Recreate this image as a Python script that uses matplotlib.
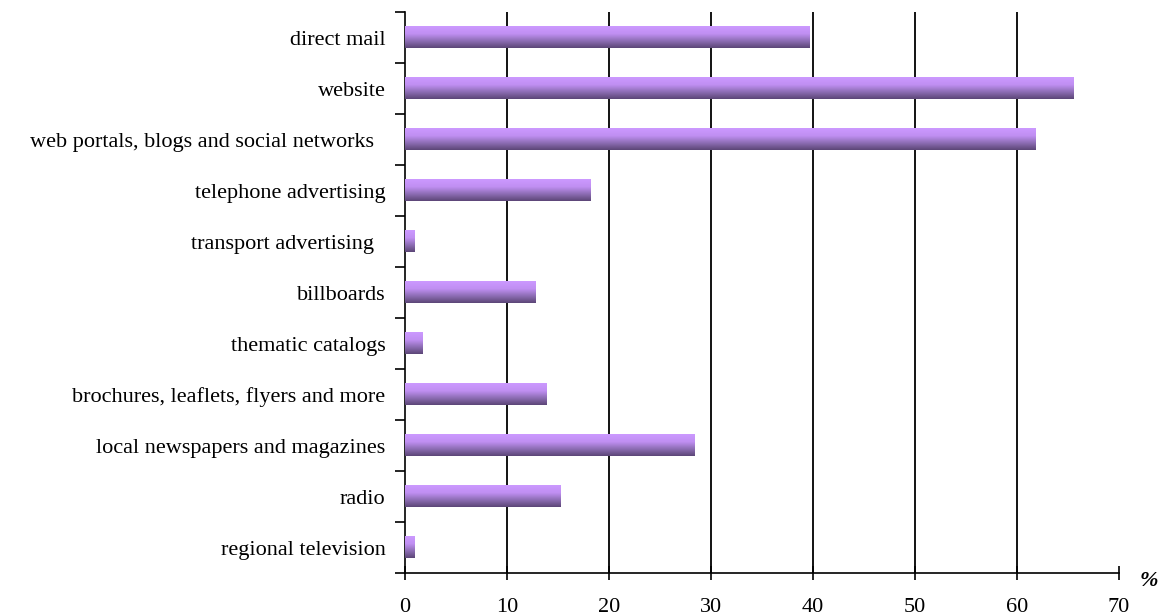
import numpy as np
import matplotlib.pyplot as plt
from matplotlib.colors import LinearSegmentedColormap

# top to bottom as in the chart
channels = ['direct mail', 'website', 'web portals, blogs and social networks  ',
            'telephone advertising', 'transport advertising  ', 'billboards',
            'thematic catalogs', 'brochures, leaflets, flyers and more',
            'local newspapers and magazines', 'radio', 'regional television']
shares = [39.7, 65.5, 61.8, 18.2, 0.9, 12.8, 1.7, 13.9, 28.4, 15.2, 0.9]
x_ticks = [0, 10, 20, 30, 40, 50, 60, 70]

plt.rcParams['font.family'] = ['Liberation Serif', 'DejaVu Serif']

fig = plt.figure(figsize=(11.71, 6.16), dpi=100)
ax = fig.add_axes([0.3459, 0.0698, 0.6097, 0.9107])

n = len(channels)
ypos = np.arange(n)[::-1]
bar_h = 0.42

# vertical gradient, light on top, dark at the bottom
cmap = LinearSegmentedColormap.from_list(
    'bar', [(0, '#cc99ff'), (0.35, '#c08ff2'), (0.7, '#8a6bb0'), (1, '#5c4677')])
grad = np.linspace(0, 1, 64).reshape(-1, 1)

bars = ax.barh(ypos, shares, height=bar_h, color='none', zorder=3)
for b in bars:
    x0, y0 = b.get_x(), b.get_y()
    w, h = b.get_width(), b.get_height()
    ax.imshow(grad, cmap=cmap, aspect='auto', interpolation='bilinear',
              extent=(x0, x0 + w, y0, y0 + h), origin='upper', zorder=3)

ax.set_xlim(0, 70)
ax.set_ylim(-0.5, n - 0.5)

ax.set_xticks(x_ticks)
ax.set_xticklabels([str(t) for t in x_ticks], fontsize=16)
ax.tick_params(axis='x', direction='inout', length=10, width=1.2, pad=13)

ax.set_yticks(ypos)
ax.set_yticklabels(channels, fontsize=16)
ax.tick_params(axis='y', which='major', length=0, pad=14)
ax.set_yticks(np.arange(n + 1) - 0.5, minor=True)
ax.tick_params(axis='y', which='minor', direction='out', length=7, width=1.2)

for t in x_ticks[1:-1]:
    ax.axvline(t, color='black', lw=1.3, zorder=1)

for s in ['top', 'right']:
    ax.spines[s].set_visible(False)
for s in ['left', 'bottom']:
    ax.spines[s].set_linewidth(1.2)

fig.text(1149 / 1171, 1 - 581 / 616, '%', fontsize=16, fontweight='bold',
         fontstyle='italic', ha='center', va='center')

fig.savefig('out.png', dpi=100)
